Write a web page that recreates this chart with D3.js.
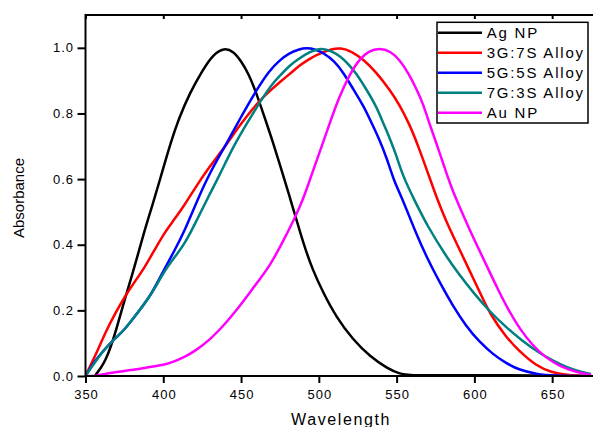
<!DOCTYPE html>
<html>
<head>
<meta charset="utf-8">
<script src="https://cdn.jsdelivr.net/npm/d3@7"></script>
<style>
  body { margin: 0; background: #fff; }
  svg { display: block; font-family: "Liberation Sans", Arial, sans-serif; }
  .axis path, .axis line { stroke: #000; stroke-width: 2; }
  .axis text { font-size: 13px; letter-spacing: 1px; fill: #000; }
</style>
</head>
<body>
<svg id="chart" width="593" height="427"></svg>
<script>
// wavelength (nm), absorbance
var agNP = [[356,0],[360,0.025],[363,0.05],[366,0.085],[370,0.145],[375,0.23],[382,0.34],[388,0.445],
  [393,0.52],[398,0.6],[404,0.7],[410,0.785],[417,0.862],[425,0.93],[432,0.98],[439,1.0],[445,0.99],
  [450,0.96],[455,0.92],[460,0.86],[465,0.79],[470,0.72],[476,0.628],[481,0.55],[485,0.486],[490,0.405],
  [496,0.323],[503,0.252],[511,0.181],[522,0.11],[533,0.059],[544,0.023],[552,0.006],[560,0.001],
  [600,0.003],[640,0.002],[675,0]];
var g3s7 = [[350,0],[354,0.04],[358,0.08],[363,0.135],[369,0.19],[375,0.24],[382,0.29],[388,0.33],
  [395,0.39],[402,0.445],[406,0.47],[413,0.516],[420,0.57],[430,0.64],[439,0.694],[450,0.77],[462,0.841],
  [470,0.875],[476,0.9],[482,0.923],[488,0.948],[495,0.97],[502,0.985],[508,0.996],[514,1.0],[521,0.99],
  [529,0.963],[537,0.925],[546,0.87],[552,0.825],[558,0.77],[564,0.7],[570,0.62],[576,0.54],[582,0.47],
  [588,0.41],[594,0.35],[600,0.29],[605,0.24],[610,0.19],[620,0.12],[629,0.075],[640,0.03],[650,0.01],
  [660,0.002],[675,0]];
var g5s5 = [[350,0],[355,0.04],[362,0.08],[368,0.11],[375,0.14],[383,0.19],[392,0.245],[400,0.32],
  [407,0.38],[414,0.445],[422,0.537],[430,0.62],[439,0.694],[450,0.79],[460,0.872],[468,0.93],[475,0.963],
  [481,0.984],[487,0.995],[492,1.0],[498,0.995],[503,0.984],[510,0.96],[516,0.923],[522,0.875],[529,0.821],
  [534,0.77],[539,0.72],[544,0.66],[548,0.598],[554,0.537],[562,0.44],[570,0.355],[578,0.283],[586,0.215],
  [595,0.15],[603,0.105],[612,0.066],[620,0.04],[629,0.018],[640,0.006],[650,0.001],[675,0]];
var g7s3 = [[350,0],[355,0.035],[362,0.08],[368,0.11],[375,0.14],[383,0.19],[392,0.245],[400,0.315],
  [407,0.36],[414,0.405],[420,0.46],[428,0.537],[436,0.61],[445,0.7],[455,0.78],[463,0.841],[470,0.89],
  [475,0.915],[481,0.945],[486,0.963],[494,0.988],[502,1.0],[508,0.99],[514,0.974],[519,0.95],[524,0.923],
  [531,0.87],[537,0.821],[541,0.775],[546,0.72],[550,0.67],[554,0.61],[561,0.54],[570,0.455],[582,0.364],
  [590,0.31],[600,0.25],[610,0.196],[620,0.15],[630,0.11],[642,0.069],[650,0.048],[660,0.025],[668,0.013],
  [675,0.006]];
var auNP = [[350,0],[357,0],[363,0.007],[371,0.013],[380,0.018],[392,0.028],[400,0.033],[407,0.044],
  [414,0.059],[420,0.075],[430,0.11],[440,0.16],[447,0.2],[455,0.25],[462,0.295],[469,0.34],[477,0.41],
  [485,0.486],[490,0.54],[494,0.595],[500,0.675],[507,0.77],[513,0.85],[520,0.92],[526,0.965],[532,0.99],
  [539,1.0],[546,0.99],[552,0.963],[558,0.92],[563,0.872],[567,0.83],[571,0.77],[577,0.69],[582,0.618],
  [586,0.565],[591,0.51],[597,0.445],[603,0.385],[608,0.335],[615,0.265],[622,0.2],[629,0.145],[637,0.095],
  [646,0.055],[655,0.03],[665,0.012],[675,0.003]];

var seriesNames = ["Ag NP", "3G:7S Alloy", "5G:5S Alloy", "7G:3S Alloy", "Au NP"];
var seriesData = [agNP, g3s7, g5s5, g7s3, auNP];
var seriesColors = ["#000000", "#ff0000", "#0000ff", "#008080", "#ff00ff"];

var xTicks = [350, 400, 450, 500, 550, 600, 650];
var yTicks = [0, 0.2, 0.4, 0.6, 0.8, 1.0];

const margin = {top: 15, left: 85.5, bottom: 376, right: 592.6};

var svg = d3.select("#chart");

var x = d3.scaleLinear().domain([350, 676]).range([margin.left, margin.right]);
var y = d3.scaleLinear().domain([0, 1.1]).range([margin.bottom, margin.top]);

// curves
var line = d3.line()
    .x(function(d) { return x(d[0]); })
    .y(function(d) { return y(d[1]); })
    .curve(d3.curveBasis);

svg.append("defs").append("clipPath").attr("id", "clip")
  .append("rect")
    .attr("x", margin.left).attr("y", margin.top)
    .attr("width", margin.right - margin.left).attr("height", margin.bottom - margin.top);

svg.append("g")
    .attr("clip-path", "url(#clip)")
  .selectAll("path")
  .data(seriesData)
  .enter().append("path")
    .attr("d", line)
    .attr("fill", "none")
    .attr("stroke", function(d, i) { return seriesColors[i]; })
    .attr("stroke-width", 2.5);

// top axis (ticks inward)
svg.append("g")
    .attr("class", "axis")
    .attr("transform", "translate(0," + margin.top + ")")
    .call(d3.axisBottom(x).tickValues(xTicks).tickSize(4).tickSizeOuter(0).tickFormat(""))
    .select(".domain").attr("d", "M" + margin.left + ",0H" + 593);

// bottom axis
var xg = svg.append("g")
    .attr("class", "axis")
    .attr("transform", "translate(0," + margin.bottom + ")")
    .call(d3.axisBottom(x).tickValues(xTicks).tickSize(7).tickSizeOuter(0).tickFormat(d3.format("d")));
xg.select(".domain").attr("d", "M" + margin.left + ",0H" + 593);
xg.selectAll("text").attr("y", 23).attr("dy", 0).attr("dx", "0.5px");

// left axis
var yg = svg.append("g")
    .attr("class", "axis")
    .attr("transform", "translate(" + margin.left + ",0)")
    .call(d3.axisLeft(y).tickValues(yTicks).tickSize(8).tickSizeOuter(0).tickFormat(d3.format(".1f")));
yg.select(".domain").attr("d", "M0," + (margin.top - 1) + "V" + (margin.bottom + 1));
yg.selectAll("text").attr("x", -11.5);

// axis titles
svg.append("text")
    .attr("x", 341)
    .attr("y", 424.5)
    .attr("text-anchor", "middle")
    .style("font-size", "16px")
    .style("letter-spacing", "1.6px")
    .text("Wavelength");

svg.append("text")
    .attr("transform", "translate(24,198) rotate(-90)")
    .attr("text-anchor", "middle")
    .style("font-size", "15px")
    .text("Absorbance");

// legend
var legend = svg.append("g");

legend.append("rect")
    .attr("x", 437).attr("y", 22.3)
    .attr("width", 151).attr("height", 100.7)
    .attr("fill", "#fff")
    .attr("stroke", "#000")
    .attr("stroke-width", 1.5);

var rows = legend.selectAll("g.row")
    .data(seriesNames)
  .enter().append("g")
    .attr("class", "row")
    .attr("transform", function(d, i) { return "translate(0," + (32.7 + i * 20) + ")"; });

rows.append("line")
    .attr("x1", 438).attr("x2", 482)
    .attr("stroke", function(d, i) { return seriesColors[i]; })
    .attr("stroke-width", 2.5);

rows.append("text")
    .attr("x", 486.7)
    .attr("y", 5.4)
    .style("font-size", "15px")
    .style("letter-spacing", "1.8px")
    .text(function(d) { return d; });
</script>
</body>
</html>
